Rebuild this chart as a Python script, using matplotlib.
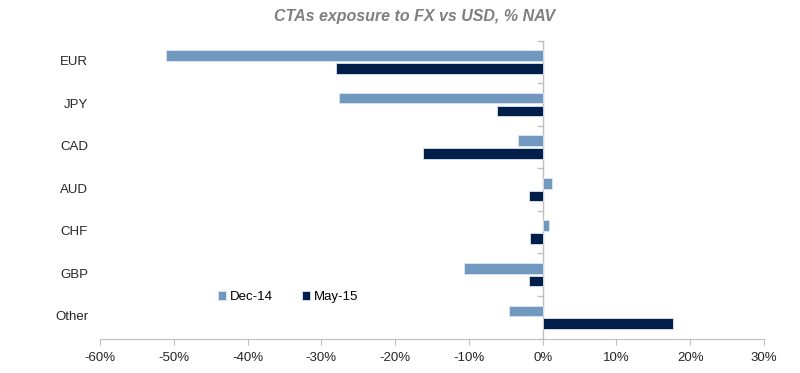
import numpy as np
import matplotlib
matplotlib.use("Agg")
import matplotlib.pyplot as plt
from matplotlib.ticker import FuncFormatter

plt.rcParams["font.family"] = ["Liberation Sans", "DejaVu Sans"]

# data (% of NAV)
currencies = ["EUR", "JPY", "CAD", "AUD", "CHF", "GBP", "Other"]
dec14 = [-51.1, -27.6, -3.4, 1.2, 0.8, -10.7, -4.5]
may15 = [-28.0, -6.2, -16.2, -1.9, -1.7, -1.8, 17.7]
x_ticks = [-60, -50, -40, -30, -20, -10, 0, 10, 20, 30]

C_DEC = "#7199C0"
C_MAY = "#021E4A"
GREY = "#BFBFBF"

fig = plt.figure(figsize=(8, 3.73), dpi=100)
ax = fig.add_axes([100 / 800, 1 - 338.5 / 373, 664 / 800, 297.8 / 373])

y = np.arange(len(currencies))
h = 0.25
ax.barh(y - 0.15, dec14, h, color=C_DEC, edgecolor="#DCE6F0", linewidth=0.6, label="Dec-14")
ax.barh(y + 0.15, may15, h, color=C_MAY, edgecolor="#DCE6F0", linewidth=0.6, label="May-15")

ax.set_xlim(-60, 30)
ax.set_ylim(len(currencies) - 0.5, -0.5)
ax.set_xticks(x_ticks)
ax.xaxis.set_major_formatter(FuncFormatter(lambda v, p: f"{v:.0f}%"))

# category axis sits at zero, labels drawn at the far left
ax.set_yticks([])
for s in ["top", "right", "left"]:
    ax.spines[s].set_visible(False)
ax.spines["bottom"].set_color(GREY)
ax.axvline(0, color=GREY, lw=1, zorder=0)
for b in np.arange(-0.5, len(currencies), 1.0):
    ax.plot([-0.6, 0], [b, b], color=GREY, lw=1, clip_on=False, zorder=0)
for yi, name in zip(y, currencies):
    ax.text(-0.018, yi, name, transform=ax.get_yaxis_transform(), ha="right",
            va="center", fontsize=9.5, color="#262626")

ax.tick_params(axis="x", colors=GREY, labelcolor="#262626", labelsize=9.5,
               length=4, pad=6)

ax.set_title("CTAs exposure to FX vs USD, % NAV", fontsize=11.5, fontweight="bold",
             fontstyle="italic", color="#7F7F7F", x=(415 - 100) / 664, pad=14)

ax.legend(loc="center left", bbox_to_anchor=(0.16, 0.139), ncol=2, frameon=False,
          fontsize=9.5, handlelength=0.6, handleheight=0.6, handletextpad=0.3,
          columnspacing=2.2)

fig.savefig("out.png", dpi=100)
